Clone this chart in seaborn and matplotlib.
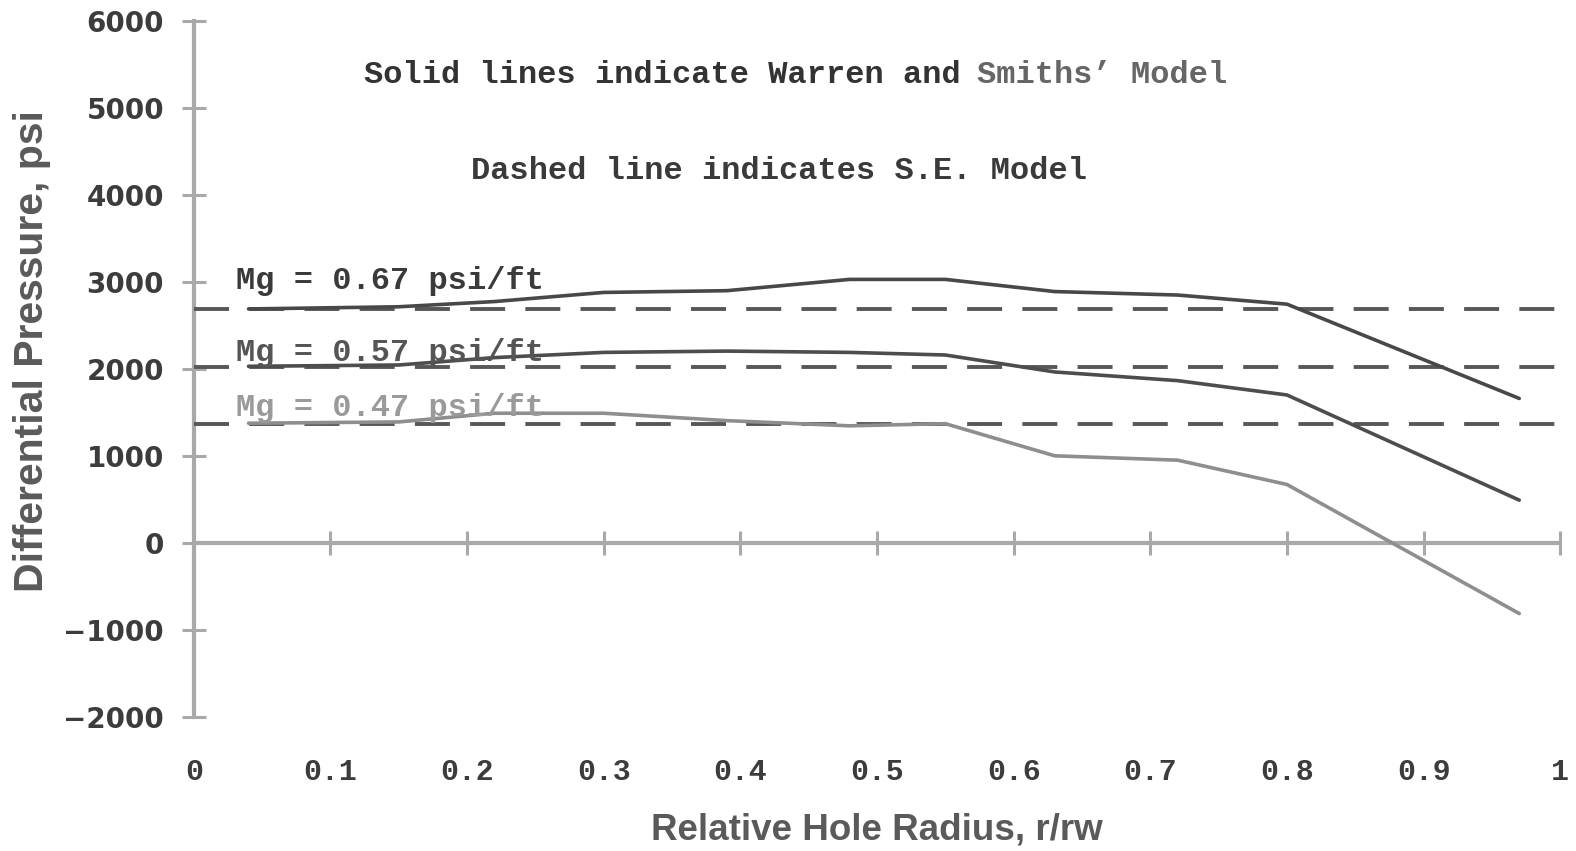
import matplotlib
matplotlib.use("Agg")
import matplotlib.pyplot as plt
from matplotlib import font_manager
import seaborn as sns
import pandas as pd

# Relative hole radius sample points for the Warren & Smith curves
radius = [0.04, 0.15, 0.22, 0.30, 0.39, 0.48, 0.55, 0.63, 0.72, 0.80, 0.97]
dp_067 = [2690, 2715, 2775, 2880, 2900, 3030, 3030, 2890, 2850, 2745, 1660]
dp_057 = [2030, 2045, 2130, 2190, 2205, 2190, 2160, 1965, 1865, 1700, 490]
dp_047 = [1375, 1390, 1490, 1490, 1405, 1345, 1370, 1000, 950, 670, -815]

# S.E. model: constant differential pressure per gradient
se_levels = [2690, 2020, 1365]

gradients = ["Mg = 0.67 psi/ft", "Mg = 0.57 psi/ft", "Mg = 0.47 psi/ft"]
x_ticks = [0.1, 0.2, 0.3, 0.4, 0.5, 0.6, 0.7, 0.8, 0.9, 1.0]
x_tick_labels = ["0.1", "0.2", "0.3", "0.4", "0.5", "0.6", "0.7", "0.8", "0.9", "1"]
y_ticks = [-2000, -1000, 0, 1000, 2000, 3000, 4000, 5000, 6000]

sns.set_theme(style="white")

names = {f.name for f in font_manager.fontManager.ttflist}
mono = "Liberation Mono" if "Liberation Mono" in names else "DejaVu Sans Mono"
narrow = "Liberation Sans Narrow" if "Liberation Sans Narrow" in names else "Liberation Sans"
plt.rcParams["font.family"] = [mono, "DejaVu Sans"]

df = pd.DataFrame({
    "r": radius * 3,
    "dp": dp_067 + dp_057 + dp_047,
    "Mg": [gradients[0]] * len(radius) + [gradients[1]] * len(radius) + [gradients[2]] * len(radius),
})
line_colors = {gradients[0]: "#484848", gradients[1]: "#4d4d4d", gradients[2]: "#8e8e8e"}
label_colors = ["#3a3a3a", "#555555", "#9a9a9a"]

fig = plt.figure(figsize=(15.76, 8.51), dpi=100)
ax = fig.add_axes([0.123, 0.158, 0.867, 0.817])

axis_grey = "#a9a9a9"

# Dashed S.E. model levels
ax.hlines(se_levels, 0, 1, colors="#575757", linewidth=2.8,
          linestyles=(0, (9, 5.2)), zorder=2)

sns.lineplot(data=df, x="r", y="dp", hue="Mg", palette=line_colors,
             linewidth=2.6, legend=False, ax=ax, zorder=3)

ax.set_xlim(0, 1)
ax.set_ylim(-2000, 6000)
ax.set_xlabel("")

# Spines: y axis at x=0, x axis through y=0
for side in ["top", "right"]:
    ax.spines[side].set_visible(False)
ax.spines["left"].set_position(("data", 0))
ax.spines["bottom"].set_position(("data", 0))
for side in ["left", "bottom"]:
    ax.spines[side].set_color(axis_grey)
    ax.spines[side].set_linewidth(3)
    ax.spines[side].set_zorder(1)

ax.set_yticks(y_ticks)
ax.set_yticklabels([str(v).replace("-", "\u2212") for v in y_ticks])
ax.tick_params(axis="y", direction="inout", length=17, width=2.2, color=axis_grey,
               pad=13, labelsize=20, labelcolor="#3c3c3c", left=True)
for lbl in ax.get_yticklabels():
    lbl.set_fontweight("bold")
    lbl.set_family("DejaVu Sans")

ax.set_xticks(x_ticks)
ax.tick_params(axis="x", direction="inout", length=17, width=2.2, color=axis_grey,
               bottom=True, labelbottom=False)

# Tick labels along the bottom of the plotting area
sec = ax.secondary_xaxis(0.0)
sec.set_xticks([0.0] + x_ticks)
sec.set_xticklabels(["0"] + x_tick_labels)
sec.spines["bottom"].set_visible(False)
sec.tick_params(axis="x", length=0, pad=30, labelsize=21.5, labelcolor="#3c3c3c")
for lbl in sec.get_xticklabels():
    lbl.set_fontweight("bold")
sec.set_xlabel("Relative Hole Radius, r/rw", family=narrow, fontsize=26.5,
               fontweight="bold", color="#5a5a5a", labelpad=19)

ax.set_ylabel("Differential Pressure, psi", family=narrow, fontsize=29.5,
              fontweight="bold", color="#5a5a5a")
ax.yaxis.set_label_coords(-0.1045, 0.526)

# Curve labels
label_y = [3017, 2185, 1549]
for text, yv, col in zip(gradients, label_y, label_colors):
    ax.text(0.031, yv, text, fontsize=23, fontweight="bold", color=col,
            va="center", ha="left", zorder=4)

# Header notes
fs = 23
first = "Solid lines indicate Warren and "
ax.text(0.1244, 5387, first, fontsize=fs, fontweight="bold", color="#333333",
        va="center", ha="left")
ax.annotate("Smiths’ Model", xy=(0.1244, 5387), xytext=(len(first) * 0.6 * fs, 0),
            textcoords="offset points", fontsize=fs, fontweight="bold",
            color="#666666", va="center", ha="left")
ax.text(0.203, 4277, "Dashed line indicates S.E. Model", fontsize=fs,
        fontweight="bold", color="#3a3a3a", va="center", ha="left")

fig.savefig("out.png", dpi=100, facecolor="white")
